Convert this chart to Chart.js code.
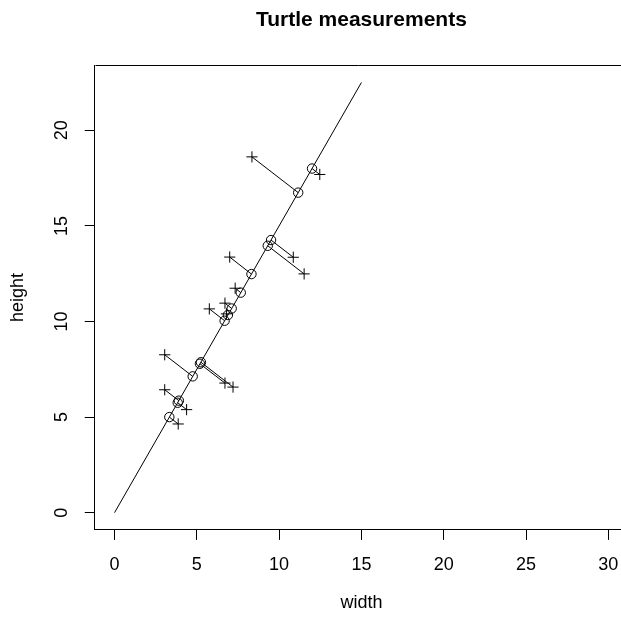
<!DOCTYPE html>
<html>
<head>
<meta charset="utf-8">
<script src="https://cdn.jsdelivr.net/npm/chart.js@4/dist/chart.umd.min.js"></script>
<style>
  html, body { margin: 0; padding: 0; background: #fff; }
</style>
</head>
<body>
<canvas id="turtle-chart" width="621" height="619"></canvas>
<script>
// measured turtles (+)
const widthObs  = [8.35, 12.47, 10.86, 11.52, 7.0, 7.33, 5.76, 6.71, 6.8, 3.05, 6.71, 7.2, 3.05, 4.38, 3.87];
const heightObs = [18.61, 17.69, 13.36, 12.49, 13.37, 11.74, 10.66, 10.96, 10.4, 8.26, 6.78, 6.57, 6.43, 5.39, 4.64];
// where each one lands on the fitted line (o)
const widthFit  = [11.16, 12.0, 9.51, 9.31, 8.32, 7.67, 6.69, 7.12, 6.89, 4.75, 5.19, 5.25, 3.91, 3.84, 3.33];
const heightFit = [16.74, 18.0, 14.26, 13.96, 12.48, 11.51, 10.04, 10.68, 10.34, 7.13, 7.79, 7.87, 5.86, 5.75, 5.0];
// fitted line end points
const lineX = [0, 15];
const lineY = [0, 22.5];

const xTicks = [0, 5, 10, 15, 20, 25, 30];
const yTicks = [0, 5, 10, 15, 20];

const FONT = "'Liberation Sans', Arial, Helvetica, sans-serif";

const obsPoints = widthObs.map((x, i) => ({ x: x, y: heightObs[i] }));
const fitPoints = widthFit.map((x, i) => ({ x: x, y: heightFit[i] }));
const linePoints = lineX.map((x, i) => ({ x: x, y: lineY[i] }));

// one segment per turtle, broken up with NaN gaps
const segPoints = [];
obsPoints.forEach((p, i) => {
  segPoints.push(p, fitPoints[i], { x: NaN, y: NaN });
});

// box (no right side, it runs off the canvas) + title + x label
const framePlugin = {
  id: "frame",
  afterDraw(chart) {
    const { ctx, chartArea: a } = chart;
    ctx.save();
    ctx.strokeStyle = "#000";
    ctx.lineWidth = 1;
    ctx.beginPath();
    ctx.moveTo(Math.round(a.left) + 0.5, Math.round(a.top) + 0.5);
    ctx.lineTo(chart.width, Math.round(a.top) + 0.5);
    ctx.stroke();

    const cx = 361.4; // middle of the full plot region
    ctx.fillStyle = "#000";
    ctx.textAlign = "center";
    ctx.textBaseline = "middle";
    ctx.font = "bold 21px " + FONT;
    ctx.fillText("Turtle measurements", cx, 20);
    ctx.font = "18px " + FONT;
    ctx.fillText("width", cx, 603);
    ctx.restore();
  }
};

const ctx = document.getElementById("turtle-chart").getContext("2d");
new Chart(ctx, {
  type: "scatter",
  data: {
    datasets: [
      {
        type: "line",
        data: linePoints,
        borderColor: "#000",
        borderWidth: 1,
        pointRadius: 0,
        fill: false
      },
      {
        type: "line",
        data: segPoints,
        borderColor: "#000",
        borderWidth: 1,
        pointRadius: 0,
        spanGaps: false,
        fill: false
      },
      {
        data: fitPoints,
        pointStyle: "circle",
        pointRadius: 4.7,
        borderColor: "#000",
        borderWidth: 1,
        backgroundColor: "rgba(0,0,0,0)"
      },
      {
        data: obsPoints,
        pointStyle: "cross",
        pointRadius: 5.6,
        borderColor: "#000",
        borderWidth: 1
      }
    ]
  },
  options: {
    responsive: false,
    devicePixelRatio: 1,
    animation: false,
    layout: { autoPadding: false, padding: { top: 65.3, right: 0, bottom: 0, left: 0 } },
    plugins: {
      legend: { display: false },
      tooltip: { enabled: false }
    },
    scales: {
      x: {
        type: "linear",
        min: -1.2,
        max: 30.77,
        afterBuildTicks: (scale) => { scale.ticks = xTicks.map(v => ({ value: v })); },
        afterFit: (scale) => {
          scale.height = 89.1;
          scale.paddingLeft = 0;
          scale.paddingRight = 0;
        },
        grid: { display: true, drawOnChartArea: false, drawTicks: true, tickLength: 10, color: "#000", lineWidth: 1 },
        border: { display: true, color: "#000", width: 1 },
        ticks: {
          color: "#000",
          font: { family: FONT, size: 18 },
          padding: 14,
          maxRotation: 0,
          autoSkip: false,
          callback: (v) => String(v)
        }
      },
      y: {
        type: "linear",
        min: -0.9,
        max: 23.4,
        afterBuildTicks: (scale) => { scale.ticks = yTicks.map(v => ({ value: v })); },
        afterFit: (scale) => {
          scale.width = 94.75;
          scale.paddingTop = 0;
          scale.paddingBottom = 0;
        },
        grid: { display: true, drawOnChartArea: false, drawTicks: true, tickLength: 10, color: "#000", lineWidth: 1 },
        border: { display: true, color: "#000", width: 1 },
        title: {
          display: true,
          text: "height",
          color: "#000",
          font: { family: FONT, size: 18 },
          padding: { top: 7.2, bottom: 0 }
        },
        ticks: {
          color: "#000",
          font: { family: FONT, size: 18 },
          padding: 12.75,
          minRotation: 90,
          maxRotation: 90,
          crossAlign: "center",
          autoSkip: false,
          callback: (v) => String(v)
        }
      }
    }
  },
  plugins: [framePlugin]
});
</script>
</body>
</html>
